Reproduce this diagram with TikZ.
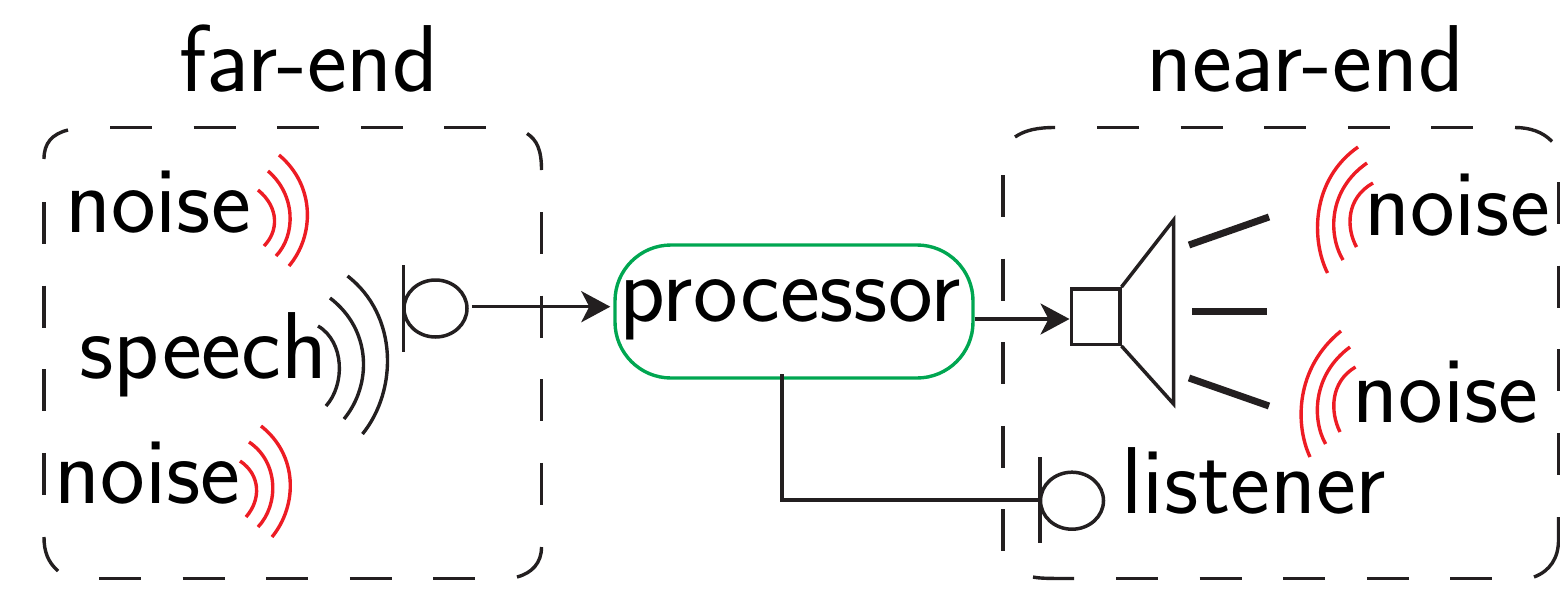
\documentclass[tikz,border=0pt]{standalone}
\usetikzlibrary{arrows.meta,shapes.geometric}
\definecolor{ink}{HTML}{231F20}
\definecolor{wavered}{HTML}{ED1C24}
\definecolor{boxgreen}{HTML}{00A651}
\tikzset{
  lab/.style={font=\sffamily\fontsize{95}{100}\selectfont,inner sep=0pt,anchor=base},
  ln/.style={draw=ink,line width=3.5pt},
  dsh/.style={draw=ink,line width=3.4pt,dash pattern=on 42pt off 41.6pt},
  cnr/.style={draw=ink,line width=3.4pt},
  wred/.style={draw=wavered,line width=3.4pt},
  wblk/.style={draw=ink,line width=3.4pt},
  thick bar/.style={draw=ink,line width=7pt},
  arr/.style={ln,-{Stealth[length=29pt,width=31pt,inset=8pt]}},
  mic/.style={ellipse,ln,minimum width=63pt,minimum height=57pt,inner sep=0pt},
}
\begin{document}
\begin{tikzpicture}[x=1pt,y=-1pt]
\useasboundingbox (0,0) rectangle (1560,590);
\node[lab] (far) at (309,91) {far-end};
\node[lab] (near) at (1305,91) {near-end};
% far-end dashed box
\draw[dsh] (110,127.5) -- (490,127.5);
\draw[dsh] (99,578.5) -- (480,578.5);
\draw[dsh] (44,202) -- (44,500);
\draw[dsh] (541.5,212) -- (541.5,510);
\draw[cnr] (44,159) .. controls (44,143) and (52,134) .. (68,130);
\draw[cnr] (527,133.5) .. controls (537,140) and (541.5,150) .. (541.5,170);
\draw[cnr] (44,537) .. controls (44,552) and (48,562) .. (58,571);
\draw[cnr] (517,577) .. controls (532,573) and (541.5,563) .. (541.5,547);
% near-end dashed box
\draw[dsh] (1097,127.5) -- (1480,127.5);
\draw[dsh] (1116,578.5) -- (1495,578.5);
\draw[dsh] (1003,175) -- (1003,555);
\draw[dsh] (1558.5,182) -- (1558.5,480);
\draw[cnr] (1015,137) .. controls (1025,130) and (1038,127.5) .. (1055,127.5);
\draw[cnr] (1515,127.5) .. controls (1530,127.5) and (1543,132) .. (1552,141.5);
\draw[cnr] (1558.5,517) -- (1558.5,540) .. controls (1558.5,558) and (1550,571) .. (1534,577);
\draw[cnr] (1033,577) .. controls (1040,578.5) and (1050,578.5) .. (1074,578.5);
% labels
\node[lab] (n1) at (158,232) {noise};
\node[lab] (sp) at (203.5,378.5) {speech};
\node[lab] (n2) at (147.5,503) {noise};
\node[lab] (n3) at (1457,235) {noise};
\node[lab] (n4) at (1445.5,422) {noise};
\node[lab] (li) at (1254,513) {listener};
\node[lab] (pr) at (790,321) {processor};
% waves
\draw[wred] (258,190) .. controls (280,208) and (278,232) .. (264,246);
\draw[wred] (268,171) .. controls (296,195) and (296,235) .. (276,256);
\draw[wred] (279,155) .. controls (315,185) and (315,235) .. (289,266);
\draw[wblk] (318,326) .. controls (345,342) and (345,385) .. (326,406);
\draw[wblk] (330,298) .. controls (372,330) and (372,385) .. (344,419);
\draw[wblk] (347.5,276) .. controls (398,315) and (398,390) .. (362.5,434);
\draw[wred] (240,461) .. controls (261,475) and (261,500) .. (246,517);
\draw[wred] (249,442) .. controls (279,462) and (279,505) .. (258,527);
\draw[wred] (261,426) .. controls (298,455) and (298,505) .. (272,537);
\draw[wred] (1373,183) .. controls (1346,198) and (1346,228) .. (1356.5,247);
\draw[wred] (1367,163) .. controls (1328,190) and (1328,235) .. (1343,260);
\draw[wred] (1358,147) .. controls (1311,180) and (1311,240) .. (1327.5,273);
\draw[wred] (1355.5,367) .. controls (1330,382) and (1330,412) .. (1340,432);
\draw[wred] (1350,347) .. controls (1312,375) and (1312,420) .. (1325.6,444);
\draw[wred] (1341,331) .. controls (1295,368) and (1295,425) .. (1310,457);
% processor
\node[draw=boxgreen,line width=3.4pt,rounded corners=56pt,minimum width=358pt,minimum height=133pt,inner sep=0pt] (box) at (794,311.5) {};
% far-end microphone
\node[mic] (mic1) at (435.5,308.5) {};
\coordinate (mic1bar1) at (403.6,265);
\coordinate (mic1bar2) at (403.6,352);
\draw[ln] (mic1bar1) -- (mic1bar2);
\draw[arr,shorten <=3pt,shorten >=3pt] ([yshift=1.8pt]mic1.east) -- (box.west |- 471,306.7);
% speaker
\node[draw=ink,line width=3.5pt,minimum width=48.5pt,minimum height=55.5pt,inner sep=0pt] (spk) at (1095.5,316.5) {};
\draw[ln,line join=miter] (spk.north east) -- (1173.6,220) -- (1173.6,404) -- (spk.south east);
\draw[arr] (box.east |- 973,319) -- (spk.west |- 1071,319);
\draw[thick bar] (1189,245) -- (1269,217);
\draw[thick bar] (1192,311.7) -- (1267,311.7);
\draw[thick bar] (1189,378) -- (1269,406);
% listener microphone
\node[mic] (mic2) at (1072,500.7) {};
\coordinate (mic2bar1) at (1040,457);
\coordinate (mic2bar2) at (1040,543);
\draw[ln] (mic2bar1) -- (mic2bar2);
\coordinate (elbow) at (782,500);
\draw[ln] (782,374) -- (elbow) -- (mic2bar1 |- elbow);
\end{tikzpicture}
\end{document}
